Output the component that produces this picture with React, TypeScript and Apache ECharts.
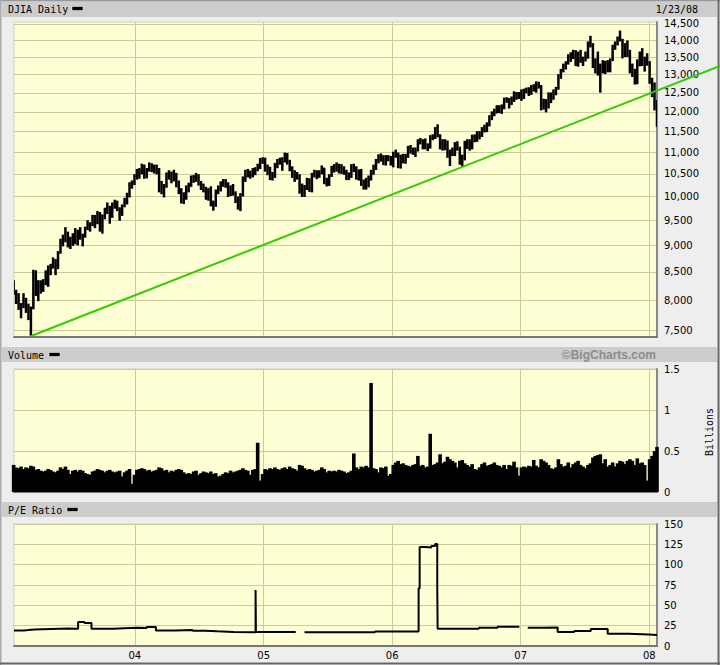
import React, { useEffect, useRef } from 'react';
import * as echarts from 'echarts';

const DAY = 86400000;
const START = Date.UTC(2003, 0, 23);
const END = Date.UTC(2008, 0, 23);
const TREND_AXIS_END = Date.UTC(2008, 6, 20); // same time scale, extended to the image's right edge
const FIRST_WEEK = Date.UTC(2003, 0, 22); // mid-week (Wednesday) of first weekly bar
const YEAR_MARKS = [2004, 2005, 2006, 2007, 2008].map((y) => Date.UTC(y, 0, 1));

const PRICE_TICKS = [7500, 8000, 8500, 9000, 9500, 10000, 10500, 11000, 11500, 12000, 12500, 13000, 13500, 14000, 14500];

// Weekly DJIA low / high (Jan 2003 - Jan 2008)
const PRICE_LOW = [
  8100, 7940, 7840, 7700, 7870, 7790, 7670, 7416, 7850, 8080,
  7990, 8120, 8150, 8270, 8240, 8450, 8570, 8450, 8560, 8850,
  8990, 9070, 8970, 8940, 9000, 9030, 9010, 9120, 8990, 9160,
  9310, 9280, 9390, 9350, 9430, 9280, 9240, 9530, 9640, 9440,
  9560, 9750, 9700, 9500, 9600, 9780, 9840, 9990, 10180, 10260,
  10380, 10400, 10500, 10400, 10410, 10560, 10550, 10520, 10500, 10100,
  10060, 9990, 10200, 10380, 10300, 10340, 10210, 10060, 9860, 9850,
  9940, 10100, 10220, 10310, 10330, 10250, 10150, 10100, 9940, 9920,
  9800, 9710, 9790, 10060, 10120, 10220, 10200, 10000, 10020, 10030,
  9870, 9730, 9700, 10010, 10330, 10430, 10400, 10430, 10480, 10570,
  10620, 10740,
  10560, 10480, 10370, 10360, 10420, 10640, 10720, 10580, 10770, 10720,
  10570, 10420, 10330, 10380, 10070, 10000, 10000, 10150, 10110, 10100,
  10430, 10390, 10420, 10500, 10280, 10230, 10240, 10440, 10540, 10560,
  10520, 10510, 10490, 10370, 10370, 10420, 10550, 10380, 10360, 10240,
  10160, 10160, 10210, 10360, 10490, 10600, 10750, 10790, 10710, 10700,
  10800, 10700,
  10660, 10880, 10640, 10630, 10750, 10740, 10880, 10980, 10950, 10900,
  11030, 11200, 11080, 11080, 11040, 11100, 11300, 11330, 11370, 11080,
  11050, 11060, 10880, 10690, 10920, 10920, 11050, 10720, 10680, 10820,
  11090, 11050, 11080, 11250, 11260, 11320, 11380, 11490, 11500, 11640,
  11800, 11900, 11970, 11980, 11960, 12080, 12250, 12100, 12190, 12270,
  12330, 12350,
  12300, 12350, 12500, 12430, 12460, 12550, 12520, 12630, 12050, 12070,
  12000, 12100, 12240, 12330, 12450, 12600, 12900, 13080, 13160, 13300,
  13380, 13460, 13260, 13240, 13350, 13260, 13390, 13470, 13800, 13200,
  13050, 12990, 12520, 13050, 13030, 13080, 13080, 13400, 13730, 13860,
  13980, 13480, 13520, 13520, 13050, 12950, 12740, 12750, 13250, 13260,
  13100, 13270,
  12760, 12400, 12050, 11635,
];
const PRICE_HIGH = [
  8340, 8170, 8110, 7940, 8110, 8030, 7930, 7880, 8530, 8520,
  8340, 8340, 8360, 8520, 8610, 8640, 8760, 8730, 8880, 9120,
  9200, 9350, 9260, 9160, 9230, 9330, 9300, 9350, 9220, 9360,
  9490, 9450, 9600, 9600, 9680, 9660, 9610, 9750, 9860, 9790,
  9860, 9920, 9900, 9760, 9820, 9960, 10070, 10300, 10340, 10480,
  10600, 10620, 10720, 10700, 10620, 10750, 10730, 10700, 10700, 10620,
  10330, 10260, 10520, 10570, 10540, 10580, 10510, 10340, 10170, 10080,
  10230, 10290, 10450, 10460, 10510, 10480, 10330, 10270, 10200, 10170,
  10210, 9900, 10140, 10230, 10320, 10370, 10370, 10300, 10230, 10260,
  10100, 9990, 10060, 10430, 10580, 10600, 10560, 10620, 10640, 10720,
  10850, 10870,
  10860, 10700, 10650, 10530, 10740, 10830, 10860, 10870, 10980, 10970,
  10810, 10660, 10570, 10530, 10480, 10270, 10240, 10400, 10390, 10510,
  10580, 10570, 10570, 10680, 10630, 10400, 10480, 10670, 10710, 10750,
  10720, 10710, 10660, 10580, 10520, 10710, 10720, 10660, 10590, 10600,
  10360, 10400, 10450, 10580, 10700, 10830, 10940, 10960, 10920, 10920,
  10920, 10900,
  11000, 11050, 10980, 10930, 10950, 10950, 11140, 11160, 11100, 11100,
  11300, 11330, 11300, 11320, 11200, 11400, 11420, 11600, 11670, 11420,
  11300, 11300, 11270, 11050, 11100, 11230, 11250, 11120, 10930, 11260,
  11300, 11300, 11410, 11420, 11500, 11500, 11600, 11660, 11720, 11900,
  12000, 12070, 12160, 12160, 12180, 12360, 12370, 12350, 12390, 12530,
  12510, 12510,
  12580, 12600, 12630, 12640, 12700, 12720, 12800, 12790, 12700, 12330,
  12320, 12500, 12500, 12580, 12650, 13000, 13150, 13300, 13370, 13570,
  13630, 13700, 13690, 13650, 13700, 13500, 13650, 13950, 14120, 13900,
  13450, 13650, 13300, 13400, 13380, 13400, 13450, 13850, 13950, 14100,
  14280, 14030, 13900, 13980, 13700, 13300, 13150, 13420, 13650, 13750,
  13500, 13600,
  13370, 12900, 12770, 12300,
];

// Weekly volume, billions
const VOLUME = [
  0.33, 0.30, 0.29, 0.31, 0.28, 0.30, 0.29, 0.32, 0.31, 0.27,
  0.28, 0.26, 0.25, 0.26, 0.28, 0.27, 0.25, 0.24, 0.26, 0.30,
  0.28, 0.31, 0.27, 0.22, 0.26, 0.27, 0.25, 0.27, 0.26, 0.23,
  0.22, 0.21, 0.25, 0.26, 0.28, 0.27, 0.26, 0.24, 0.26, 0.27,
  0.25, 0.24, 0.25, 0.26, 0.19, 0.24, 0.26, 0.28, 0.10, 0.21,
  0.27, 0.28, 0.29, 0.28, 0.26, 0.27, 0.25, 0.26, 0.27, 0.30,
  0.29, 0.26, 0.27, 0.24, 0.26, 0.25, 0.27, 0.28, 0.27, 0.24,
  0.22, 0.23, 0.22, 0.25, 0.26, 0.21, 0.23, 0.25, 0.24, 0.23,
  0.25, 0.22, 0.23, 0.19, 0.20, 0.22, 0.24, 0.23, 0.26, 0.24,
  0.25, 0.26, 0.27, 0.29, 0.27, 0.26, 0.21, 0.27, 0.28, 0.60,
  0.14, 0.22,
  0.28, 0.27, 0.29, 0.28, 0.30, 0.28, 0.27, 0.29, 0.30, 0.28,
  0.31, 0.29, 0.28, 0.26, 0.33, 0.32, 0.29, 0.27, 0.28, 0.27,
  0.25, 0.26, 0.27, 0.30, 0.28, 0.24, 0.26, 0.25, 0.26, 0.25,
  0.27, 0.26, 0.25, 0.23, 0.24, 0.26, 0.47, 0.30, 0.28, 0.31,
  0.30, 0.32, 0.30, 1.33, 0.29, 0.28, 0.24, 0.30, 0.29, 0.31,
  0.20, 0.22,
  0.33, 0.36, 0.38, 0.34, 0.35, 0.33, 0.32, 0.31, 0.33, 0.34,
  0.44, 0.32, 0.33, 0.30, 0.31, 0.71, 0.33, 0.34, 0.36, 0.46,
  0.35, 0.37, 0.43, 0.40, 0.38, 0.36, 0.30, 0.38, 0.39, 0.35,
  0.33, 0.31, 0.34, 0.28, 0.27, 0.30, 0.34, 0.36, 0.32, 0.33,
  0.34, 0.36, 0.33, 0.32, 0.30, 0.33, 0.28, 0.33, 0.32, 0.37,
  0.30, 0.20,
  0.30, 0.31, 0.30, 0.32, 0.31, 0.39, 0.32, 0.30, 0.40, 0.38,
  0.36, 0.33, 0.29, 0.28, 0.30, 0.40, 0.34, 0.31, 0.32, 0.36,
  0.30, 0.34, 0.36, 0.38, 0.33, 0.31, 0.29, 0.33, 0.35, 0.42,
  0.44, 0.45, 0.46, 0.35, 0.40, 0.31, 0.33, 0.36, 0.31, 0.35,
  0.38, 0.37, 0.34, 0.38, 0.40, 0.38, 0.33, 0.41, 0.35, 0.36,
  0.33, 0.14,
  0.40, 0.44, 0.50, 0.55,
];

// P/E ratio (step line); null = no data
const PE_DATES = [
  '2003-01-23', '2003-02-20', '2003-03-05', '2003-03-22', '2003-05-09', '2003-06-01', '2003-06-25',
  '2003-07-24', '2003-08-11', '2003-08-31', '2003-11-01', '2003-12-01', '2004-01-10', '2004-02-04',
  '2004-03-01', '2004-04-26', '2004-06-13', '2004-07-18', '2004-08-22', '2004-10-08', '2004-12-09',
  '2004-12-10', '2005-04-02', '2005-04-03', '2005-04-27', '2005-08-01', '2005-11-13', '2006-03-17',
  '2006-03-20', '2006-04-04', '2006-04-22', '2006-05-03', '2006-05-09', '2006-05-10', '2006-09-04',
  '2006-10-27', '2006-12-28', '2006-12-29', '2007-01-21', '2007-03-10', '2007-04-16', '2007-06-02',
  '2007-07-19', '2007-09-05', '2007-11-03', '2007-12-31', '2008-01-23',
];
const PE_VALUES = [
  19.2, 19.6, 20.3, 21.0, 21.3, 21.6, 21.2,
  29.5, 28.3, 21.3, 21.8, 22.5, 22.0, 23.3,
  19.2, 19.8, 18.8, 18.0, 17.2, 16.8, 68.7,
  17.3, 17.3, null, 16.8, 16.9, 17.9, 71.0,
  121.8, 121.0, 122.8, 125.5, 71.8, 21.3, 22.5,
  23.7, 23.7, null, 22.5, 22.8, 17.2, 18.3,
  20.9, 15.0, 14.2, 13.4, 13.4,
];

const TREND_DATES = ['2003-03-11', '2008-07-20'];
const TREND_VALUES = [7400, 13250];

const VOL_TICKS = { min: 0, max: 1.5, interval: 0.5 };
const PE_TICKS = { min: 0, max: 150, interval: 25 };

const GRID_LINE = '#cccc99';
const PLOT_BG = '#ffffd6';
const LABEL_FONT = 'DejaVu Sans';
const MONO = 'DejaVu Sans Mono';

const LN_MIN = Math.log(7500) - 7 / 464.2;
const LN_MAX = Math.log(14500) + 2 / 464.2;

function weekDate(i: number) {
  return FIRST_WEEK + i * 7 * DAY;
}

function buildOption() {
  const priceData = PRICE_LOW.map((lo, i) => [weekDate(i), Math.log(lo), Math.log(PRICE_HIGH[i])]);
  const volData = VOLUME.map((v, i) => [weekDate(i), v]);
  const peData = PE_DATES.map((d, i) => [Date.parse(d), PE_VALUES[i]]);
  const trendData = TREND_DATES.map((d, i) => [Date.parse(d), Math.log(TREND_VALUES[i])]);

  const grids: any[] = [
    { top: 22, height: 315 },
    { top: 369, height: 123 },
    { top: 524, height: 122 },
  ].map((g) => ({
    left: 14,
    right: 63,
    top: g.top,
    height: g.height,
    show: true,
    backgroundColor: PLOT_BG,
    borderColor: '#d0d0b0',
    borderWidth: 1,
  }));
  // overlay grid for the trend line: same scales as the price panel, reaching the image's right edge
  grids.push({ left: 14, right: 0, top: 22, height: 315, show: false });

  const xAxes: any[] = [0, 1, 2].map((i) => ({
    type: 'value',
    gridIndex: i,
    min: START,
    max: END,
    axisLine: { show: true, onZero: false, lineStyle: { color: '#777777', width: 2 } },
    axisTick: { show: false, customValues: YEAR_MARKS },
    axisLabel: {
      show: i === 2,
      customValues: YEAR_MARKS,
      formatter: (v: number) => String(new Date(v).getUTCFullYear()).slice(2),
      margin: 4,
      color: '#000',
      fontSize: 10,
      fontFamily: LABEL_FONT,
    },
    splitLine: { show: true, lineStyle: { color: GRID_LINE, width: 1 } },
  }));
  xAxes.push({ type: 'value', gridIndex: 3, min: START, max: TREND_AXIS_END, show: false });

  const yCommon = {
    position: 'right',
    axisLine: { show: true, onZero: false, lineStyle: { color: '#888888', width: 2 } },
    splitLine: { show: true, lineStyle: { color: GRID_LINE, width: 1 } },
  };
  const labelCommon = { margin: 7, color: '#000', fontSize: 10, fontFamily: LABEL_FONT };

  const priceTickLn = PRICE_TICKS.map((v) => Math.log(v));

  const yAxes: any[] = [
    {
      ...yCommon,
      type: 'value',
      gridIndex: 0,
      min: LN_MIN,
      max: LN_MAX,
      axisTick: { show: false, customValues: priceTickLn },
      axisLabel: {
        ...labelCommon,
        customValues: priceTickLn,
        formatter: (v: number) => Math.round(Math.exp(v)).toLocaleString('en-US'),
      },
    },
    {
      ...yCommon,
      type: 'value',
      gridIndex: 1,
      ...VOL_TICKS,
      axisTick: { show: false },
      axisLabel: { ...labelCommon },
    },
    {
      ...yCommon,
      type: 'value',
      gridIndex: 2,
      ...PE_TICKS,
      axisTick: { show: false },
      axisLabel: { ...labelCommon },
    },
    { type: 'value', gridIndex: 3, min: LN_MIN, max: LN_MAX, show: false },
  ];

  const headerRect = (y: number) => ({
    type: 'rect',
    shape: { x: 2, y, width: 715, height: 15 },
    style: { fill: '#cccccc' },
    silent: true,
  });
  const headerText = (x: number, y: number, text: string, extra: any = {}) => ({
    type: 'text',
    x,
    y,
    style: {
      text,
      font: `10px "${MONO}"`,
      fill: '#000',
      textVerticalAlign: 'middle',
      ...extra,
    },
    silent: true,
  });
  const legendRect = (x: number, y: number) => ({
    type: 'rect',
    shape: { x, y, width: 11, height: 4 },
    style: { fill: '#000', stroke: '#ffffff', lineWidth: 0.5 },
    silent: true,
  });

  return {
    animation: false,
    backgroundColor: '#eeeeee',
    grid: grids,
    xAxis: xAxes,
    yAxis: yAxes,
    graphic: [
      headerRect(2),
      headerRect(347),
      headerRect(502),
      headerText(8, 9.5, 'DJIA Daily'),
      legendRect(72, 6.5),
      headerText(698, 9.5, '1/23/08', { textAlign: 'right' }),
      headerText(8, 355, 'Volume'),
      legendRect(49, 352.5),
      {
        type: 'text',
        x: 656,
        y: 355,
        style: {
          text: '\u00a9BigCharts.com',
          font: 'bold 12px "Liberation Sans"',
          fill: '#8c8c8c',
          textAlign: 'right',
          textVerticalAlign: 'middle',
        },
        silent: true,
      },
      headerText(8, 510, 'P/E Ratio'),
      legendRect(67, 507.5),
      {
        type: 'text',
        x: 709,
        y: 432,
        rotation: Math.PI / 2,
        style: {
          text: 'Billions',
          font: `10px "${MONO}"`,
          fill: '#000',
          textAlign: 'center',
          textVerticalAlign: 'middle',
        },
        silent: true,
      },
      { type: 'line', shape: { x1: 0, y1: 0.75, x2: 720, y2: 0.75 }, style: { stroke: '#999999', lineWidth: 1.5 }, silent: true },
      { type: 'line', shape: { x1: 0.75, y1: 0, x2: 0.75, y2: 665 }, style: { stroke: '#aaaaaa', lineWidth: 1.5 }, silent: true },
      { type: 'line', shape: { x1: 718.5, y1: 0, x2: 718.5, y2: 665 }, style: { stroke: '#666666', lineWidth: 2 }, silent: true },
      { type: 'line', shape: { x1: 0, y1: 663.5, x2: 720, y2: 663.5 }, style: { stroke: '#666666', lineWidth: 2 }, silent: true },
    ],
    series: [
      {
        type: 'custom',
        name: 'DJIA',
        xAxisIndex: 0,
        yAxisIndex: 0,
        clip: true,
        encode: { x: 0, y: [1, 2] },
        data: priceData,
        renderItem: (params: any, api: any) => {
          const t = api.value(0);
          const p1 = api.coord([t, api.value(1)]);
          const p2 = api.coord([t, api.value(2)]);
          return {
            type: 'line',
            shape: { x1: p1[0], y1: p1[1] + 0.5, x2: p2[0], y2: p2[1] - 0.5 },
            style: { stroke: '#000', lineWidth: 2.5 },
          };
        },
        z: 2,
      },
      {
        type: 'line',
        name: 'Trend',
        xAxisIndex: 3,
        yAxisIndex: 3,
        data: trendData,
        clip: false,
        symbol: 'none',
        lineStyle: { color: '#33cc00', width: 2 },
        z: 5,
      },
      {
        type: 'bar',
        name: 'Volume',
        xAxisIndex: 1,
        yAxisIndex: 1,
        data: volData,
        barWidth: 3.6,
        itemStyle: { color: '#000' },
      },
      {
        type: 'line',
        name: 'P/E',
        xAxisIndex: 2,
        yAxisIndex: 2,
        data: peData,
        step: 'end',
        connectNulls: false,
        symbol: 'none',
        lineStyle: { color: '#000', width: 2 },
      },
    ],
  };
}

export default function App() {
  const ref = useRef<HTMLDivElement>(null);
  useEffect(() => {
    if (!ref.current) return;
    const chart = echarts.init(ref.current, null, { renderer: 'svg', width: 720, height: 665 });
    chart.setOption(buildOption() as any);
    return () => chart.dispose();
  }, []);
  return (
    <div
      ref={ref}
      style={{ position: 'absolute', left: 0, top: 0, width: 720, height: 665 }}
    />
  );
}
